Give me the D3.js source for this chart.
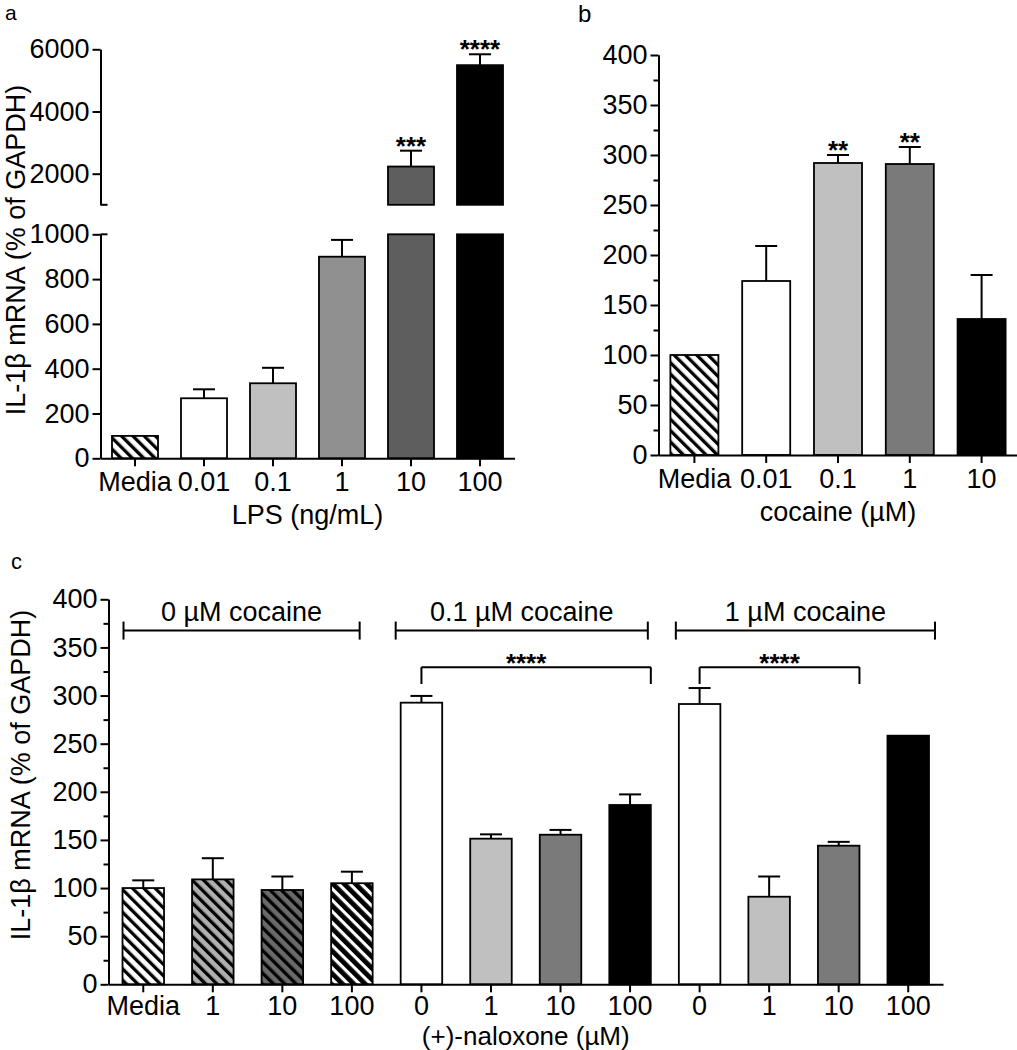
<!DOCTYPE html>
<html><head><meta charset="utf-8">
<script src="https://cdn.jsdelivr.net/npm/d3@7"></script>
<style>
body{margin:0;background:#fff;}
svg text{font-family:"Liberation Sans",Arial,sans-serif;fill:#000;}
</style></head><body>
<svg id="chart" width="1017" height="1050"></svg>
<script>
// ---------- data ----------
const catsA = ["Media", "0.01", "0.1", "1", "10", "100"];
const meanA = [100, 268, 335, 900, 2230, 5490];
const errA  = [0, 40, 69, 75, 510, 350];
const sigA  = ["", "", "", "", "***", "****"];

const catsB = ["Media", "0.01", "0.1", "1", "10"];
const meanB = [100, 174, 292, 291, 136];
const errB  = [0, 35, 8, 17, 44];
const sigB  = ["", "", "**", "**", ""];

const catsC = ["Media", "1", "10", "100", "0", "1", "10", "100", "0", "1", "10", "100"];
const meanC = [100, 109, 98, 105, 292.6, 151.3, 155.4, 186.3, 291.2, 91, 144, 258.3];
const errC  = [8, 22, 14, 12, 7, 4.5, 5, 11, 16.6, 21, 4, 0];
const groupLabelsC = ["0 µM cocaine", "0.1 µM cocaine", "1 µM cocaine"];
const groupFromC = [0, 4, 8];
const groupToC = [3, 7, 11];
const compFromC = [4, 8];
const compToC = [7, 10];
const compLabelC = ["****", "****"];

const ticksAlower = [0, 200, 400, 600, 800, 1000];
const ticksAupper = [2000, 4000, 6000];
const ticksBC = [0, 50, 100, 150, 200, 250, 300, 350, 400];
const minorBC = [25, 75, 125, 175, 225, 275, 325, 375];

// ---------- styles / layout ----------
const fillsA = ["url(#hW)", "#fff", "#c0c0c0", "#909090", "#5e5e5e", "#000"];
const fillsB = ["url(#hW)", "#fff", "#c0c0c0", "#7a7a7a", "#000"];
const fillsC = ["url(#hW)", "url(#hL)", "url(#hD)", "url(#hB)", "#fff", "#c0c0c0", "#7a7a7a", "#000", "#fff", "#c0c0c0", "#7a7a7a", "#000"];
const bracketPadL = [1, -5, -3];
const bracketPadR = [-13, -3, 6];
const starShift = [-10, 0];
const FS = 27;

const svg = d3.select("#chart");
const defs = svg.append("defs");
function hatch(id, bg, fg, w) {
  const P = 8;
  const p = defs.append("pattern").attr("id", id).attr("patternUnits", "userSpaceOnUse")
    .attr("width", P).attr("height", P).attr("patternTransform", "rotate(-45)");
  p.append("rect").attr("width", P).attr("height", P).attr("fill", bg);
  p.append("rect").attr("width", w).attr("height", P).attr("fill", fg);
}
hatch("hW", "#fff", "#000", 3.3);
hatch("hL", "#b0b0b0", "#000", 3.3);
hatch("hD", "#6a6a6a", "#000", 3.3);
hatch("hB", "#fff", "#000", 4.8);

function styleAxis(g) {
  g.selectAll("path,line").attr("stroke", "#000").attr("stroke-width", 2);
  g.selectAll("text").attr("font-size", FS).attr("fill", "#000")
    .attr("font-family", "'Liberation Sans', Arial, sans-serif");
}
function line(g, x1, y1, x2, y2) {
  g.append("line").attr("x1", x1).attr("y1", y1).attr("x2", x2).attr("y2", y2)
    .attr("stroke", "#000").attr("stroke-width", 2);
}
function errBar(g, cx, y0, y1) {
  line(g, cx, y0, cx, y1);
  line(g, cx - 11, y1, cx + 11, y1);
}
function stars(g, cx, y, txt) {
  g.append("text").attr("x", cx).attr("y", y).attr("text-anchor", "middle")
    .attr("font-size", 26).attr("font-weight", "bold").text(txt);
}
function yTitle(x, y) {
  svg.append("text").attr("transform", `translate(${x},${y}) rotate(-90)`)
    .attr("text-anchor", "middle").attr("font-size", FS).text("IL-1β mRNA (% of GAPDH)");
}

// ================= Panel a =================
{
  const g = svg.append("g");
  const ax = 100.5;
  const x = d3.scaleBand().domain(d3.range(catsA.length)).range([ax, 514.5])
    .paddingInner(0.333).paddingOuter(0.1665);
  const yL = d3.scaleLinear().domain([0, 1000]).range([458.3, 234.3]);
  const yU = d3.scaleLinear().domain([1000, 6000]).range([204.8, 49.3]);
  const bw = x.bandwidth();

  catsA.forEach((c, i) => {
    const m = meanA[i], e = errA[i], x0 = x(i);
    if (m <= 1000) {
      g.append("rect").attr("x", x0).attr("y", yL(m)).attr("width", bw).attr("height", yL(0) - yL(m))
        .attr("fill", fillsA[i]).attr("stroke", "#000").attr("stroke-width", 1.8);
      if (e > 0) errBar(g, x0 + bw / 2, yL(m), yL(m + e));
    } else {
      g.append("rect").attr("x", x0).attr("y", yL(1000)).attr("width", bw).attr("height", yL(0) - yL(1000))
        .attr("fill", fillsA[i]).attr("stroke", "#000").attr("stroke-width", 1.8);
      g.append("rect").attr("x", x0).attr("y", yU(m)).attr("width", bw).attr("height", yU(1000) - yU(m))
        .attr("fill", fillsA[i]).attr("stroke", "#000").attr("stroke-width", 1.8);
      if (e > 0) errBar(g, x0 + bw / 2, yU(m), yU(m + e));
      if (sigA[i]) stars(g, x0 + bw / 2, yU(m + e) + 4, sigA[i]);
    }
  });

  const gl = g.append("g").attr("transform", `translate(${ax},0)`)
    .call(d3.axisLeft(yL).tickValues(ticksAlower).tickFormat(d3.format("d")).tickSize(8).tickSizeOuter(0).tickPadding(3));
  styleAxis(gl);
  const gu = g.append("g").attr("transform", `translate(${ax},0)`)
    .call(d3.axisLeft(yU).tickValues(ticksAupper).tickFormat(d3.format("d")).tickSize(8).tickSizeOuter(0).tickPadding(3));
  styleAxis(gu);
  line(g, ax, yL(1000), ax + 7, yL(1000));
  line(g, ax, yU(1000), ax + 7, yU(1000));

  const gx = g.append("g").attr("transform", `translate(0,${yL(0)})`)
    .call(d3.axisBottom(x).tickFormat(i => catsA[i]).tickSize(8).tickSizeOuter(0).tickPadding(6));
  styleAxis(gx);

  g.append("text").attr("x", (x.range()[0] + x.range()[1]) / 2).attr("y", 524)
    .attr("text-anchor", "middle").attr("font-size", FS).text("LPS (ng/mL)");
  yTitle(25, 250);
  svg.append("text").attr("x", 5).attr("y", 20).attr("font-size", 21).text("a");
}

// ================= Panel b =================
{
  const g = svg.append("g");
  const ax = 658.5;
  const x = d3.scaleBand().domain(d3.range(catsB.length)).range([ax, 1017.5])
    .paddingInner(0.331).paddingOuter(0.1655);
  const y = d3.scaleLinear().domain([0, 400]).range([455, 55]);
  const bw = x.bandwidth();

  catsB.forEach((c, i) => {
    const m = meanB[i], e = errB[i], x0 = x(i);
    g.append("rect").attr("x", x0).attr("y", y(m)).attr("width", bw).attr("height", y(0) - y(m))
      .attr("fill", fillsB[i]).attr("stroke", "#000").attr("stroke-width", 1.8);
    if (e > 0) errBar(g, x0 + bw / 2, y(m), y(m + e));
    if (sigB[i]) stars(g, x0 + bw / 2, y(m + e) + 4, sigB[i]);
  });

  const gm = g.append("g").attr("transform", `translate(${ax},0)`)
    .call(d3.axisLeft(y).tickValues(minorBC).tickSize(5).tickSizeOuter(0).tickFormat(""));
  styleAxis(gm);
  const ga = g.append("g").attr("transform", `translate(${ax},0)`)
    .call(d3.axisLeft(y).tickValues(ticksBC).tickSize(8).tickSizeOuter(0).tickPadding(3));
  styleAxis(ga);
  const gx = g.append("g").attr("transform", `translate(0,${y(0)})`)
    .call(d3.axisBottom(x).tickFormat(i => catsB[i]).tickSize(8).tickSizeOuter(0).tickPadding(6));
  styleAxis(gx);

  g.append("text").attr("x", (x.range()[0] + x.range()[1]) / 2).attr("y", 521)
    .attr("text-anchor", "middle").attr("font-size", FS).text("cocaine (µM)");
  svg.append("text").attr("x", 578).attr("y", 21.5).attr("font-size", 24).text("b");
}

// ================= Panel c =================
{
  const g = svg.append("g");
  const ax = 108.5;
  const x = d3.scaleBand().domain(d3.range(catsC.length)).range([ax, 943])
    .paddingInner(0.403).paddingOuter(0.2015);
  const y = d3.scaleLinear().domain([0, 400]).range([984.3, 599.3]);
  const bw = x.bandwidth();

  catsC.forEach((c, i) => {
    const m = meanC[i], e = errC[i], x0 = x(i);
    g.append("rect").attr("x", x0).attr("y", y(m)).attr("width", bw).attr("height", y(0) - y(m))
      .attr("fill", fillsC[i]).attr("stroke", "#000").attr("stroke-width", 1.8);
    if (e > 0) errBar(g, x0 + bw / 2, y(m), y(m + e));
  });

  // group brackets
  groupLabelsC.forEach((lab, k) => {
    const x1 = x(groupFromC[k]) + bracketPadL[k], x2 = x(groupToC[k]) + bw + bracketPadR[k], yy = y(367.5);
    line(g, x1, yy, x2, yy);
    line(g, x1, yy - 9, x1, yy + 9);
    line(g, x2, yy - 9, x2, yy + 9);
    g.append("text").attr("x", (x1 + x2) / 2).attr("y", y(377)).attr("text-anchor", "middle")
      .attr("font-size", FS).text(lab);
  });
  // comparison brackets
  compLabelC.forEach((lab, k) => {
    const x1 = x(compFromC[k]) + bw / 2, x2 = x(compToC[k]) + bw, yy = y(329.5), yd = y(312);
    line(g, x1, yd, x1, yy);
    line(g, x1, yy, x2, yy);
    line(g, x2, yy, x2, yd);
    stars(g, (x1 + x2) / 2 + starShift[k], yy + 5, lab);
  });

  const gm = g.append("g").attr("transform", `translate(${ax},0)`)
    .call(d3.axisLeft(y).tickValues(minorBC).tickSize(5).tickSizeOuter(0).tickFormat(""));
  styleAxis(gm);
  const ga = g.append("g").attr("transform", `translate(${ax},0)`)
    .call(d3.axisLeft(y).tickValues(ticksBC).tickSize(8).tickSizeOuter(0).tickPadding(3));
  styleAxis(ga);
  const gx = g.append("g").attr("transform", `translate(0,${y(0)})`)
    .call(d3.axisBottom(x).tickFormat(i => catsC[i]).tickSize(8).tickSizeOuter(0).tickPadding(4));
  styleAxis(gx);

  g.append("text").attr("x", (x.range()[0] + x.range()[1]) / 2).attr("y", 1044.5)
    .attr("text-anchor", "middle").attr("font-size", 26).text("(+)-naloxone (µM)");
  yTitle(30, 775);
  svg.append("text").attr("x", 11).attr("y", 569).attr("font-size", 22).text("c");
}
</script>
</body></html>
